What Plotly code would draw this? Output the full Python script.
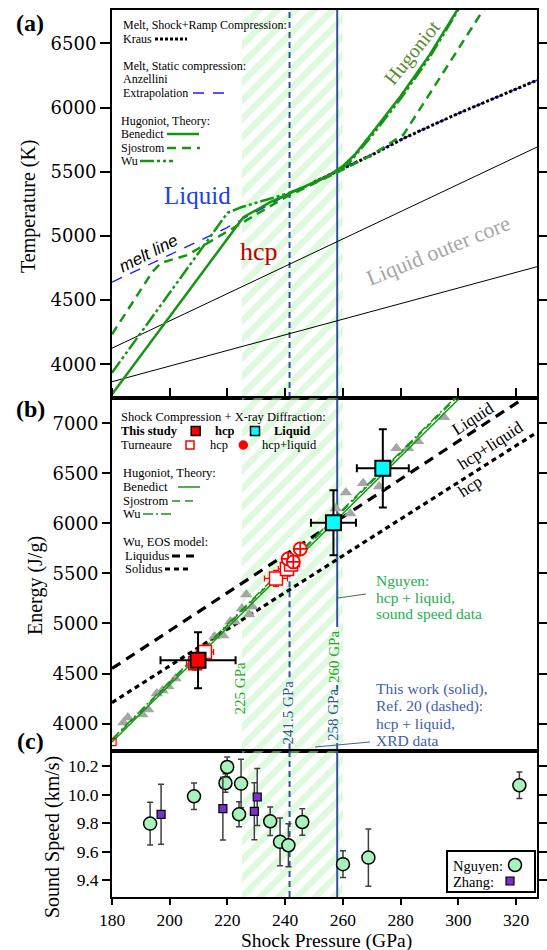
import plotly.graph_objects as go

# ---------------- (a) temperature along the Hugoniot ----------------
melt_p = [180, 200, 219, 241.5, 258, 281, 300, 327.2]
melt_t = [4640, 4850, 5055, 5330, 5505, 5760, 5955, 6213]
kraus_p = [250, 258, 270, 281, 300, 327.2]
kraus_t = [5420, 5505, 5630, 5760, 5955, 6213]
benedict_t_p = [180, 225.5, 235, 245, 255, 260, 264, 270, 280, 290, 300]
benedict_t = [3766, 5145, 5265, 5370, 5470, 5545, 5630, 5800, 6090, 6410, 6775]
sjostrom_t_p = [180, 194, 197, 206, 223, 240, 258, 270, 281, 290, 300, 309]
sjostrom_t = [4234, 4720, 4790, 4850, 5075, 5300, 5495, 5630, 5790, 6110, 6460, 6775]
wu_t_p = [180, 220, 225, 240, 250, 258, 262, 270, 280, 290, 300]
wu_t = [3934, 5180, 5225, 5325, 5410, 5505, 5565, 5780, 6070, 6390, 6765]
core_hi_p = [180, 327.2]
core_hi_t = [4125, 5692]
core_lo_p = [180, 327.2]
core_lo_t = [3864, 4760]

# ---------------- (b) internal energy ----------------
benedict_e_p = [180, 220, 260, 300]
benedict_e = [3816, 4960, 6100, 7240]
sjostrom_e_p = [180, 220, 260, 300]
sjostrom_e = [3835, 4985, 6130, 7275]
wu_e_p = [180, 220, 260, 300]
wu_e = [3845, 4995, 6145, 7290]
liquidus_p = [180, 327.2]
liquidus_e = [4550, 7337]
solidus_p = [180, 327.2]
solidus_e = [4210, 6910]
hug_data_p = [184, 185.5, 190.5, 192.5, 195.5, 197.5, 199.5, 202, 215.5, 218.5, 221, 222.5,
              225, 226.5, 227.5, 228.5, 257.5, 261, 262.5, 267, 272.5, 278.5, 282.5, 286, 295]
hug_data_e = [4010, 4060, 4090, 4140, 4300, 4330, 4370, 4450, 4870, 4880, 5020, 5020,
              5150, 5290, 5090, 5170, 6150, 6310, 6100, 6400, 6370, 6750, 6750, 6820, 7060]
study_hcp_p = [209.8]
study_hcp_e = [4633]
study_hcp_perr = [13]
study_hcp_eerr = [280]
study_liq_p = [256.7, 273.8]
study_liq_e = [6006, 6550]
study_liq_perr = [7.8, 9]
study_liq_eerr = [325, 390]
turn_hcp_p = [208.8, 212.2, 236.8, 240.6, 242.0]
turn_hcp_e = [4603, 4716, 5450, 5545, 5590]
turn_hcp_perr = [3, 3, 4, 3, 3]
turn_hcp_eerr = [70, 70, 80, 70, 70]
turn_mix_p = [241.0, 242.8, 245.2]
turn_mix_e = [5645, 5615, 5745]
turn_mix_perr = [2, 2, 2]
turn_mix_eerr = [50, 50, 50]
start_p = [180.2]
start_e = [3815]

# ---------------- (c) sound speed ----------------
nguyen_p = [193.2, 208.4, 219.3, 219.9, 224.0, 224.7, 234.8, 238.2, 241.1, 245.9, 260.0, 268.8, 321.1]
nguyen_c = [9.797, 9.988, 10.081, 10.193, 9.862, 10.077, 9.813, 9.669, 9.645, 9.808, 9.513, 9.559, 10.065]
nguyen_err = [0.15, 0.093, 0.065, 0.07, 0.087, 0.17, 0.1, 0.167, 0.15, 0.093, 0.093, 0.2, 0.093]
zhang_p = [197.0, 218.4, 229.3, 230.3]
zhang_c = [9.862, 9.902, 9.883, 9.983]
zhang_err = [0.21, 0.22, 0.2, 0.2]

# melting region markers
band_lo, band_hi = 225, 260
ref20_onset = 241.5
this_work_onset = 258

pressure_ticks = [180, 200, 220, 240, 260, 280, 300, 320]
temp_ticks = [4000, 4500, 5000, 5500, 6000, 6500]
energy_ticks = [4000, 4500, 5000, 5500, 6000, 6500, 7000]
speed_ticks = [9.4, 9.6, 9.8, 10.0, 10.2]

XR = [180, 327.2]
YR_A = [3737, 6760]
YR_B = [3726, 7253]
YR_C = [9.283, 10.305]

SERIF = "Liberation Serif"
GREEN = "#149614"
LINE_BLUE = "#2f5597"
W, H = 547, 950
ML, MR, MT, MB = 112, 10, 10, 53
PW, PH = W - ML - MR, H - MT - MB


def px(x):
    return (x - ML) / PW


def py(y):
    return (H - MB - y) / PH


fig = go.Figure()


def band(xa, ya, yr):
    fig.add_trace(go.Bar(
        x=[(band_lo + band_hi) / 2], y=[yr[1] - yr[0]], base=[yr[0]], width=[band_hi - band_lo],
        marker=dict(color="rgba(0,0,0,0)", line_width=0,
                    pattern=dict(shape="/", fgcolor="#bdf3bd", size=13, solidity=0.5)),
        xaxis=xa, yaxis=ya, showlegend=False, hoverinfo="skip"))


def line(xs, ys, xa, ya, color, width, dash="solid"):
    fig.add_trace(go.Scatter(x=xs, y=ys, mode="lines", xaxis=xa, yaxis=ya,
                             line=dict(color=color, width=width, dash=dash),
                             showlegend=False, hoverinfo="skip"))


# ---- panel (a)
band("x", "y", YR_A)
line([ref20_onset] * 2, YR_A, "x", "y", LINE_BLUE, 2, "6px,4px")
line([this_work_onset] * 2, YR_A, "x", "y", LINE_BLUE, 2)
line(core_hi_p, core_hi_t, "x", "y", "black", 1)
line(core_lo_p, core_lo_t, "x", "y", "black", 1)
line(melt_p, melt_t, "x", "y", "#1a1aff", 1.3, "11px,9px")
line(kraus_p, kraus_t, "x", "y", "black", 3, "3px,2px")
line(sjostrom_t_p, sjostrom_t, "x", "y", GREEN, 2.5, "9px,6px")
line(wu_t_p, wu_t, "x", "y", GREEN, 2.5, "14px,3px,3px,3px,3px,3px")
line(benedict_t_p, benedict_t, "x", "y", GREEN, 2.5)

# ---- panel (b)
band("x2", "y2", YR_B)
line([ref20_onset] * 2 + [None] + [ref20_onset] * 2, [5723, 4433, None, 3803, YR_B[0]],
     "x2", "y2", LINE_BLUE, 2, "6px,4px")
line([this_work_onset] * 2 + [None] + [this_work_onset] * 2 + [None] + [this_work_onset] * 2,
     [YR_B[1], 4965, None, 4385, 4340, None, 3805, YR_B[0]], "x2", "y2", LINE_BLUE, 2)
line(liquidus_p, liquidus_e, "x2", "y2", "black", 3.2, "10px,7px")
line(solidus_p, solidus_e, "x2", "y2", "black", 3.2, "5px,4px")
fig.add_trace(go.Scatter(x=hug_data_p, y=hug_data_e, mode="markers", xaxis="x2", yaxis="y2",
                         marker=dict(symbol="triangle-up", size=11, color="#a6a6a6"),
                         showlegend=False, hoverinfo="skip"))
line(sjostrom_e_p, sjostrom_e, "x2", "y2", GREEN, 1.5, "8px,5px")
line(wu_e_p, wu_e, "x2", "y2", GREEN, 1.5, "10px,3px,2px,3px")
line(benedict_e_p, benedict_e, "x2", "y2", GREEN, 1.5)
fig.add_trace(go.Scatter(x=start_p, y=start_e, mode="markers", xaxis="x2", yaxis="y2",
                         marker=dict(symbol="square-open", size=7, color="red", line_width=1.2),
                         showlegend=False, hoverinfo="skip"))
fig.add_trace(go.Scatter(
    x=turn_hcp_p, y=turn_hcp_e, mode="markers", xaxis="x2", yaxis="y2",
    error_x=dict(array=turn_hcp_perr, color="red", thickness=1.2, width=3),
    error_y=dict(array=turn_hcp_eerr, color="red", thickness=1.2, width=3),
    marker=dict(symbol="square", size=13, color="white", line=dict(color="red", width=1.5)),
    showlegend=False, hoverinfo="skip"))
fig.add_trace(go.Scatter(
    x=turn_mix_p, y=turn_mix_e, mode="markers", xaxis="x2", yaxis="y2",
    error_x=dict(array=turn_mix_perr, color="red", thickness=1.2, width=3),
    error_y=dict(array=turn_mix_eerr, color="red", thickness=1.2, width=3),
    marker=dict(symbol="circle-cross", size=13, color="white", line=dict(color="red", width=1.8)),
    showlegend=False, hoverinfo="skip"))
fig.add_trace(go.Scatter(
    x=study_hcp_p, y=study_hcp_e, mode="markers", xaxis="x2", yaxis="y2",
    error_x=dict(array=study_hcp_perr, color="black", thickness=2, width=4),
    error_y=dict(array=study_hcp_eerr, color="black", thickness=2, width=4),
    marker=dict(symbol="square", size=15, color="red", line=dict(color="black", width=2)),
    showlegend=False, hoverinfo="skip"))
fig.add_trace(go.Scatter(
    x=study_liq_p, y=study_liq_e, mode="markers", xaxis="x2", yaxis="y2",
    error_x=dict(array=study_liq_perr, color="black", thickness=2, width=4),
    error_y=dict(array=study_liq_eerr, color="black", thickness=2, width=4),
    marker=dict(symbol="square", size=15, color="cyan", line=dict(color="black", width=2)),
    showlegend=False, hoverinfo="skip"))

# ---- panel (c)
band("x3", "y3", YR_C)
line([ref20_onset] * 2, YR_C, "x3", "y3", LINE_BLUE, 2, "6px,4px")
line([this_work_onset] * 2, YR_C, "x3", "y3", LINE_BLUE, 2)
fig.add_trace(go.Scatter(
    x=nguyen_p, y=nguyen_c, mode="markers", xaxis="x3", yaxis="y3",
    error_y=dict(array=nguyen_err, color="#404040", thickness=1.5, width=3),
    marker=dict(symbol="circle", size=13, color="#a8f2bb", line=dict(color="black", width=1.5)),
    showlegend=False, hoverinfo="skip"))
fig.add_trace(go.Scatter(
    x=zhang_p, y=zhang_c, mode="markers", xaxis="x3", yaxis="y3",
    error_y=dict(array=zhang_err, color="#404040", thickness=1.5, width=3),
    marker=dict(symbol="square", size=8, color="#7b30c8", line=dict(color="black", width=1.2)),
    showlegend=False, hoverinfo="skip"))

# ---------------- layout ----------------
frame = dict(showline=True, linecolor="black", linewidth=2, showgrid=False, zeroline=False,
             automargin=False, tickwidth=2, tickcolor="black")
yaxis_style = dict(frame, mirror="ticks", ticks="outside", ticklen=8)
yfont_ab = dict(family="DejaVu Serif", size=18, color="black")
font_c = dict(family=SERIF, size=17.5, color="black")

fig.update_layout(
    width=W, height=H, margin=dict(l=ML, r=MR, t=MT, b=MB, autoexpand=False),
    paper_bgcolor="white", plot_bgcolor="white", showlegend=False, bargap=0,
    # top panel: plain frame, its lower ticks come from the middle panel
    xaxis=dict(frame, domain=[0, 1], anchor="y", range=XR, mirror=True, ticks="",
               showticklabels=False),
    # middle panel: ticks drawn on its upper edge
    xaxis2=dict(frame, domain=[0, 1], anchor="y2", range=XR, matches="x", side="top",
                mirror=True, ticks="outside", ticklen=8, tickvals=pressure_ticks,
                showticklabels=False),
    xaxis3=dict(frame, domain=[0, 1], anchor="y3", range=XR, matches="x", mirror=True,
                ticks="outside", ticklen=6, tickvals=pressure_ticks, tickfont=font_c),
    yaxis=dict(yaxis_style, domain=[py(398), 1], anchor="x", range=YR_A, tickvals=temp_ticks,
               tickfont=yfont_ab, ticklen=10),
    yaxis2=dict(yaxis_style, domain=[py(751), py(398)], anchor="x2", range=YR_B,
                tickvals=energy_ticks, tickfont=yfont_ab),
    yaxis3=dict(yaxis_style, domain=[0, py(751)], anchor="x3", range=YR_C, tickvals=speed_ticks,
                tickformat=".1f", tickfont=font_c),
)

annotations = []
shapes = []


def txt(text, x, y, size=12, color="black", xanchor="left", family=SERIF, angle=0,
        xref="paper", yref="paper"):
    if xref == "paper":
        x = px(x)
    if yref == "paper":
        y = py(y)
    annotations.append(dict(text=text, x=x, y=y, xref=xref, yref=yref, showarrow=False,
                            xanchor=xanchor, yanchor="middle", textangle=angle,
                            font=dict(family=family, size=size, color=color)))


def sample(x0, x1, y, color, width, dash="solid"):
    shapes.append(dict(type="line", xref="paper", yref="paper", x0=px(x0), x1=px(x1),
                       y0=py(y), y1=py(y), line=dict(color=color, width=width, dash=dash)))


def box(kind, xc, yc, half, fill, edge, lw=1.5):
    shapes.append(dict(type=kind, xref="paper", yref="paper", x0=px(xc - half), x1=px(xc + half),
                       y0=py(yc + half), y1=py(yc - half), fillcolor=fill,
                       line=dict(color=edge, width=lw)))


# panel labels and axis titles
txt("<b>(a)</b>", 30, 23, 24, xanchor="center")
txt("<b>(b)</b>", 30, 409, 24, xanchor="center")
txt("<b>(c)</b>", 30, 741, 24, xanchor="center")
txt("Temperature (K)", 28, 206, 20, xanchor="center", angle=-90)
txt("Energy (J/g)", 35, 586, 20, xanchor="center", angle=-90)
txt("Sound Speed (km/s)", 52, 837, 20, xanchor="center", angle=-90)
txt("Shock Pressure (GPa)", 326, 941, 19.5, xanchor="center")

# panel (a) key
txt("Melt, Shock+Ramp Compression:", 121, 25)
txt("Kraus", 121, 39)
sample(155, 187, 39, "black", 3, "3px,2px")
txt("Melt, Static compression:", 121, 66)
txt("Anzellini", 121, 79)
txt("Extrapolation", 121, 93)
sample(193, 226, 93, "#1a1aff", 1.3, "11px,9px")
txt("Hugoniot, Theory:", 119, 121)
txt("Benedict", 119, 134)
sample(167, 199, 134, GREEN, 2.5)
txt("Sjostrom", 119, 148)
sample(167, 200, 148, GREEN, 2.5, "9px,6px")
txt("Wu", 119, 161)
sample(140, 173, 161, GREEN, 2.5, "14px,3px,3px,3px,3px,3px")

# panel (a) region labels
txt("Liquid", 209.5, 5315, 25, "#2040e8", "center", xref="x", yref="y")
txt("hcp", 231.0, 4877, 26, "#c00000", "center", xref="x", yref="y")
txt("<i>melt line</i>", 192.6, 4862, 17, "black", "center", "Liberation Sans", -27,
    xref="x", yref="y")
txt("Hugoniot", 284.0, 6432, 20, "#5a8a32", "center", angle=-51, xref="x", yref="y")
txt("Liquid outer core", 293.0, 4885, 22, "#a6a6a6", "center", angle=-22, xref="x", yref="y")

# panel (b) key
txt("Shock Compression + X-ray Diffraction:", 119, 417, 12.5)
txt("<b>This study</b>", 119, 431, 12.5)
box("rect", 195.7, 431, 4.5, "red", "black")
txt("<b>hcp</b>", 213, 431, 12.5)
box("rect", 255, 431, 4.5, "cyan", "black")
txt("<b>Liquid</b>", 272, 431, 12.5)
txt("Turneaure", 119, 445, 12.5)
box("rect", 190, 445, 4, "white", "red")
txt("hcp", 208, 445, 12.5)
box("circle", 243.3, 445, 4, "red", "red")
txt("hcp+liquid", 260, 445, 12.5)
txt("Hugoniot, Theory:", 121, 473, 12.5)
txt("Benedict", 121, 487, 12.5)
sample(178, 200, 487, GREEN, 1.5)
txt("Sjostrom", 121, 501, 12.5)
sample(172, 197, 501, GREEN, 1.5, "8px,5px")
txt("Wu", 121, 514, 12.5)
sample(143, 172, 514, GREEN, 1.5, "10px,3px,2px,3px")
txt("Wu, EOS model:", 121, 542, 12.5)
txt("Liquidus", 123, 556, 12.5)
sample(172, 197, 556, "black", 3, "8px,6px")
txt("Solidus", 123, 569, 12.5)
sample(165, 190, 569, "black", 3, "5px,4px")

# panel (b) phase labels along the model curves
txt("Liquid", 305.1, 7050, 17, "black", "center", angle=-33, xref="x2", yref="y2")
txt("hcp+liquid", 311.0, 6783, 17, "black", "center", angle=-33, xref="x2", yref="y2")
txt("hcp", 304.1, 6366, 17, "black", "center", angle=-33, xref="x2", yref="y2")

# pressure labels of the melting band
txt("225 GPa", 224.4, 4353, 15, "#22a822", "center", angle=-90, xref="x2", yref="y2")
txt("241.5 GPa", 241.0, 4113, 15, LINE_BLUE, "center", angle=-90, xref="x2", yref="y2")
txt("258 GPa", 256.8, 4083, 15, LINE_BLUE, "center", angle=-90, xref="x2", yref="y2")
txt("260 GPa", 256.8, 4663, 15, "#22a822", "center", angle=-90, xref="x2", yref="y2")

# notes
for i, s in enumerate(["Nguyen:", "hcp + liquid,", "sound speed data"]):
    txt(s, 374, 580 + 17 * i, 15.5, "#22b04a")
for i, s in enumerate(["This work (solid),", "Ref. 20 (dashed):", "hcp + liquid,", "XRD data"]):
    txt(s, 374, 689 + 17.3 * i, 15.5, "#3d5ea8")
shapes.append(dict(type="line", xref="paper", yref="paper", x0=px(338), y0=py(598),
                   x1=px(366), y1=py(594), line=dict(color="#3f6f3f", width=1)))
shapes.append(dict(type="line", xref="paper", yref="paper", x0=px(315), y0=py(747),
                   x1=px(370), y1=py(742), line=dict(color="#3d5ea8", width=1)))

# panel (c) key
shapes.append(dict(type="rect", xref="paper", yref="paper", x0=px(447), x1=px(535),
                   y0=py(892), y1=py(851), fillcolor="white", line=dict(color="black", width=2)))
txt("Nguyen:", 451, 866, 14.5)
box("circle", 515, 865, 6.5, "#a8f2bb", "black")
txt("Zhang:", 451, 882, 14.5)
box("rect", 510, 881, 4, "#7b30c8", "black", 1.2)

fig.update_layout(annotations=annotations, shapes=shapes)
fig.write_html("out.html")
